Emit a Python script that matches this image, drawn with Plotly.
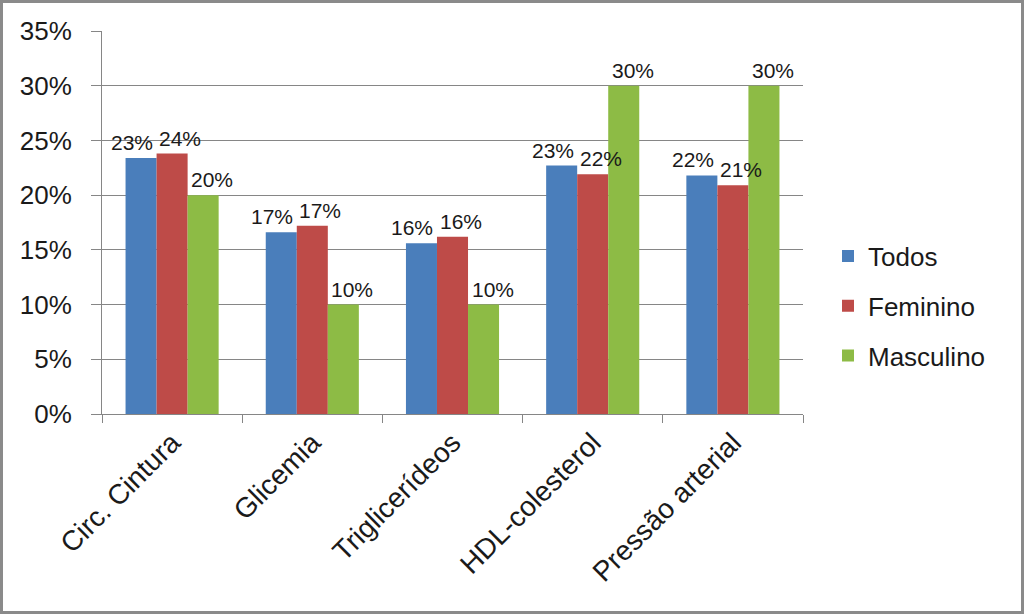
import plotly.graph_objects as go

categories = ["Circ. Cintura", "Glicemia", "Triglicerídeos", "HDL-colesterol", "Pressão arterial"]
todos = [0.234, 0.166, 0.156, 0.227, 0.218]
feminino = [0.238, 0.172, 0.162, 0.219, 0.209]
masculino = [0.20, 0.10, 0.10, 0.30, 0.30]

series = [
    ("Todos", todos, "#4a7ebb"),
    ("Feminino", feminino, "#be4b48"),
    ("Masculino", masculino, "#8dbb45"),
]

W, H = 1024, 614
ml, mr, mt, mb = 102, 221, 31, 200
pw, ph = W - ml - mr, H - mt - mb
bargap = 0.336
cat_px = pw / len(categories)
bar_px = cat_px * (1 - bargap) / len(series)
label_extra = [-9, 8, 9]  # horizontal nudge of value labels, like the reference

fig = go.Figure()
for i, (name, vals, color) in enumerate(series):
    fig.add_trace(go.Bar(
        x=categories, y=vals, name=name, marker_color=color,
        marker_line_width=0, legendgroup=name,
    ))
    for c, v in zip(categories, vals):
        fig.add_annotation(
            x=c, y=v, xref="x", yref="y", text=f"{round(v * 100):d}%", showarrow=False,
            xanchor="center", yanchor="bottom", yshift=2,
            xshift=(i - 1) * bar_px + label_extra[i],
            font=dict(size=21, color="#1a1a1a"),
        )

fig.update_layout(
    width=W, height=H,
    margin=dict(l=ml, r=mr, t=mt, b=mb),
    paper_bgcolor="white", plot_bgcolor="white",
    font=dict(family="Liberation Sans, Arial, sans-serif", color="#1a1a1a"),
    barmode="group", bargap=bargap, bargroupgap=0,
    showlegend=True,
    legend=dict(x=(828 - ml) / pw, y=(414 - 306) / ph, xanchor="left", yanchor="middle",
                font=dict(size=26), tracegroupgap=13, traceorder="grouped",
                itemwidth=30, bgcolor="rgba(0,0,0,0)"),
)
fig.update_yaxes(range=[0, 0.35], dtick=0.05, tickformat=".0%",
                 showgrid=True, gridcolor="#868686", gridwidth=1,
                 showline=True, linecolor="#868686", linewidth=1,
                 ticks="outside", ticklen=10, tickcolor="#868686",
                 ticklabelstandoff=14,
                 tickfont=dict(size=26), zeroline=False)
fig.update_xaxes(showline=True, linecolor="#868686", linewidth=1,
                 ticks="outside", tickson="boundaries", ticklen=8, tickcolor="#868686",
                 tickangle=-45, tickfont=dict(size=28), showgrid=False)

# outer frame
fig.add_shape(type="rect", xref="paper", yref="paper",
              x0=(1.5 - ml) / pw, x1=(W - 1.5 - ml) / pw,
              y0=-(mb - 1.5) / ph, y1=1 + (mt - 1.5) / ph,
              line=dict(color="#8a8a8a", width=3), layer="below")

fig.write_html("out.html", config={"displayModeBar": False},
               post_script="document.body.style.margin='0px';")
